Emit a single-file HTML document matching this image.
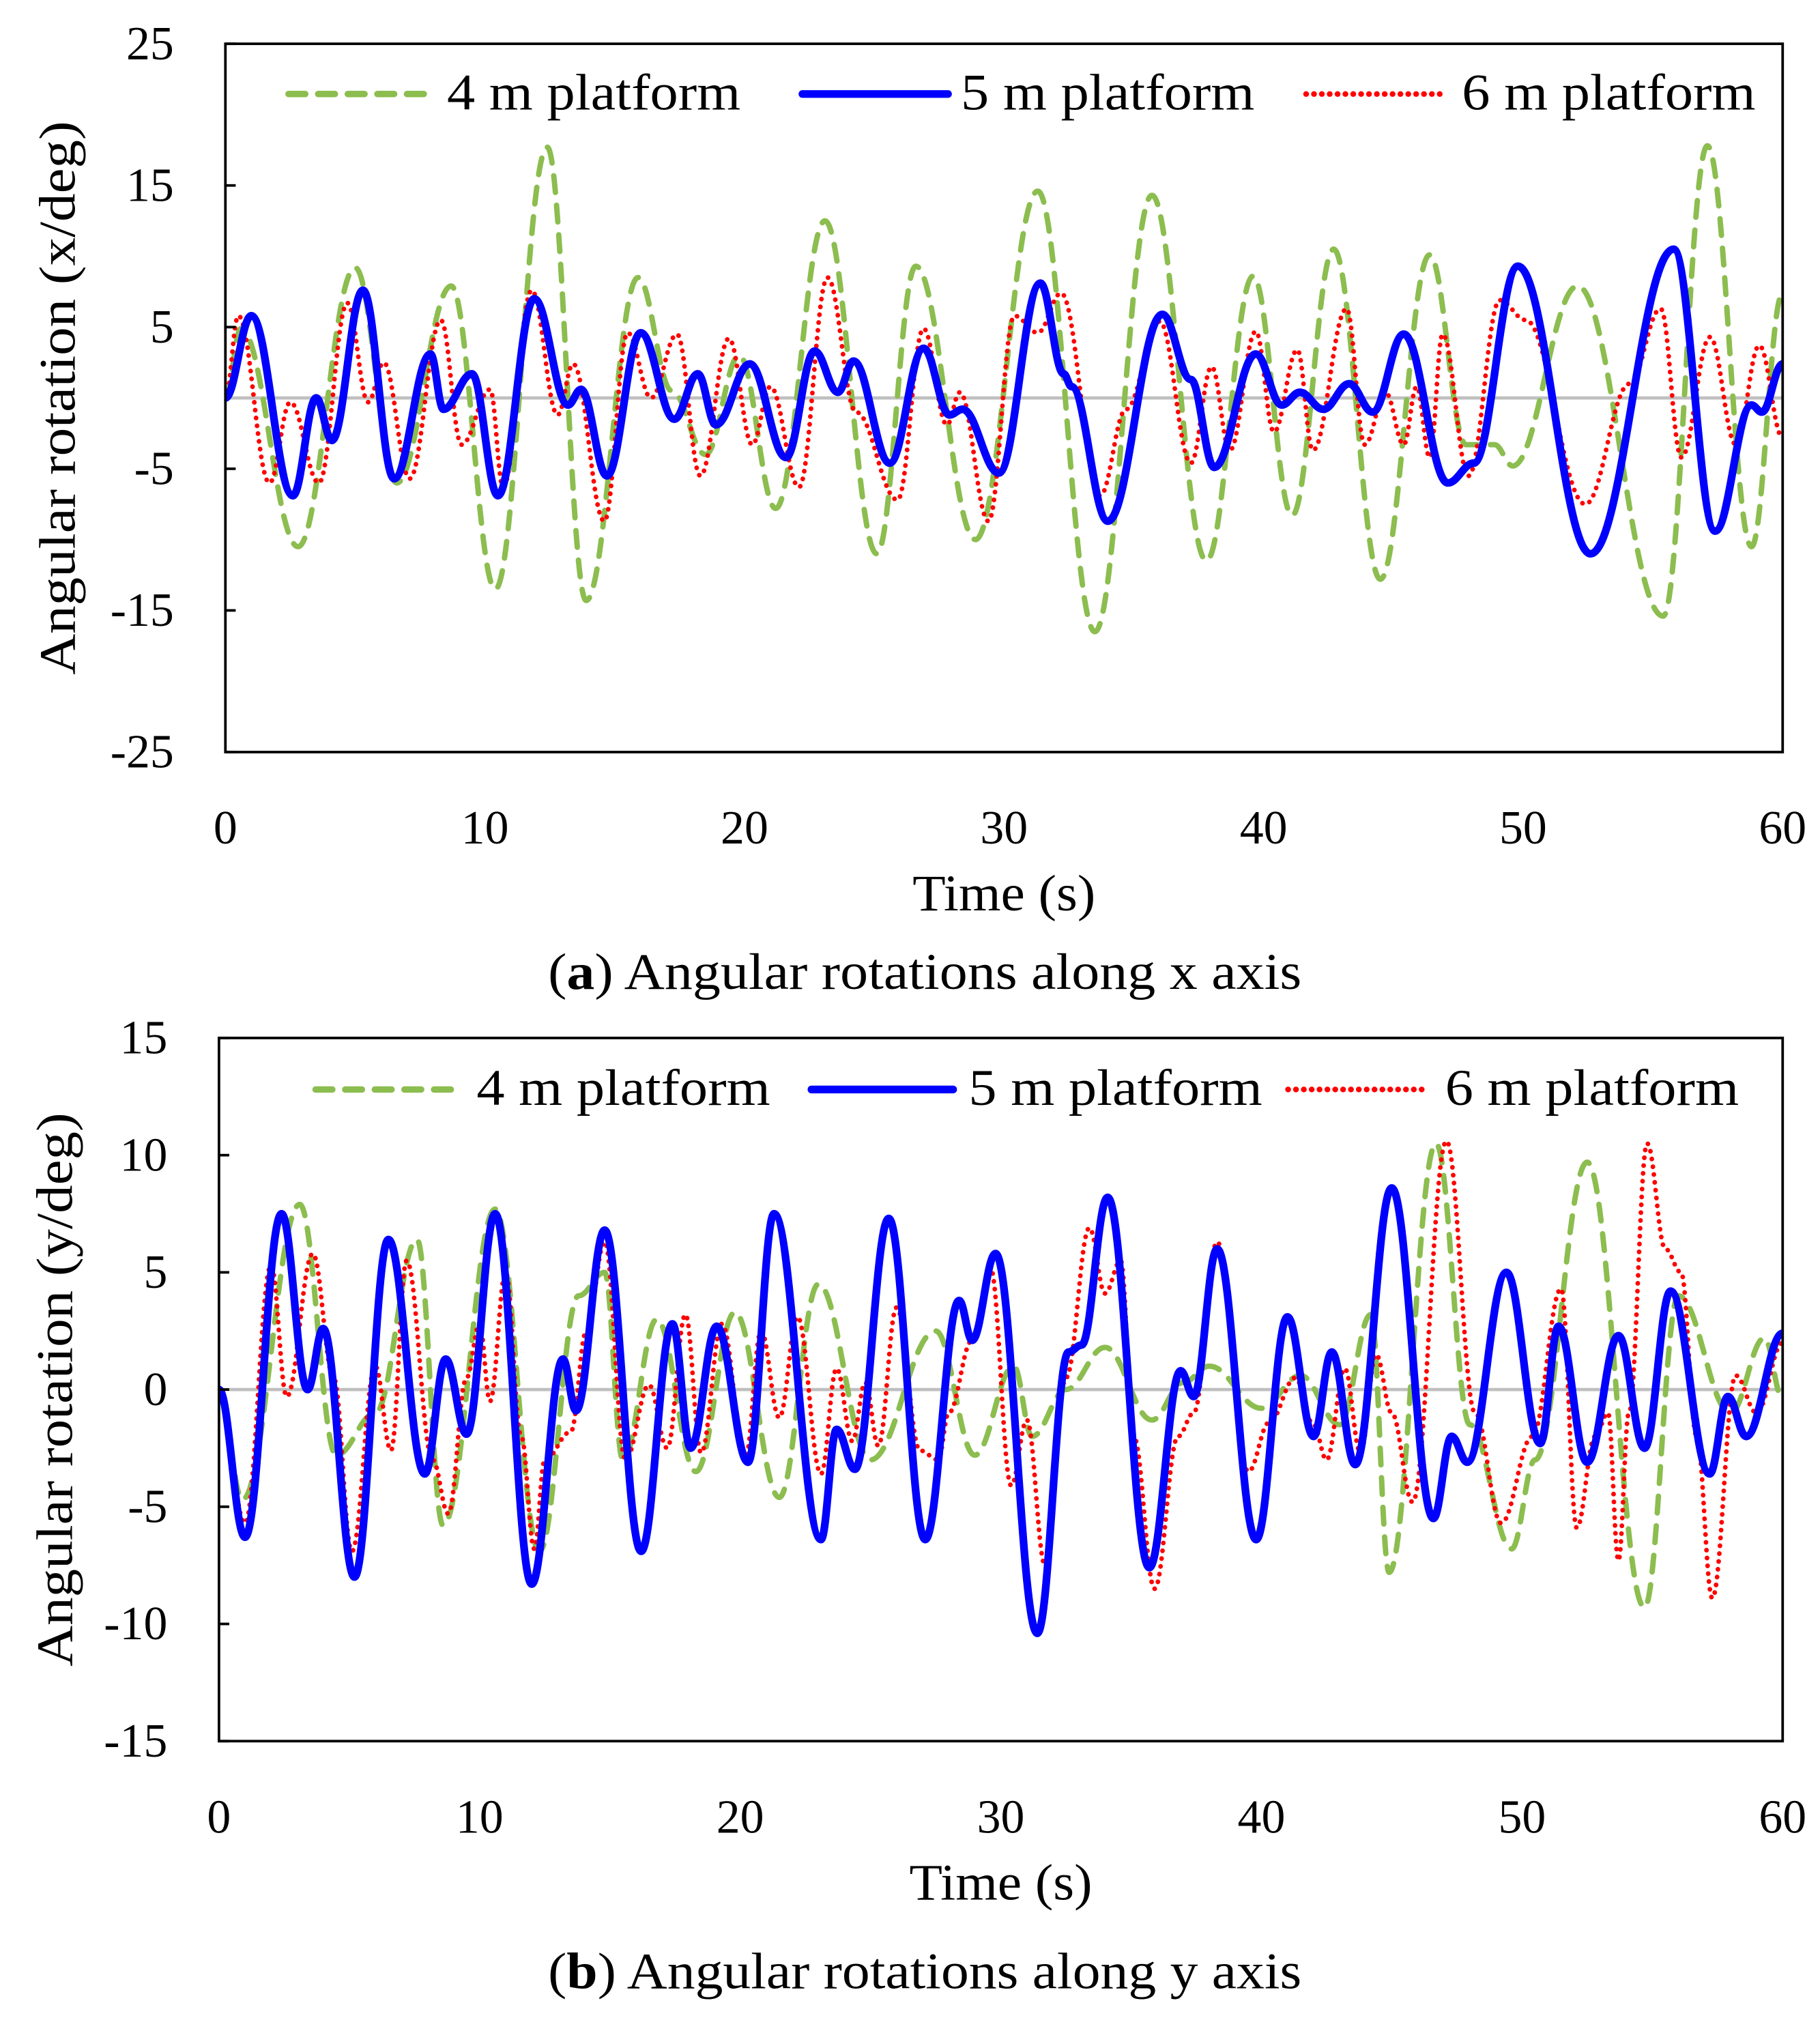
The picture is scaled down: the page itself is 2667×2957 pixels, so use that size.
<!DOCTYPE html>
<html><head><meta charset="utf-8"><style>
html,body{margin:0;padding:0;background:#fff}
svg{display:block}
text{font-family:"Liberation Serif",serif;fill:#000}
</style></head><body>
<svg id="fig" width="2667" height="2957" viewBox="0 0 1413 1567" preserveAspectRatio="none" xmlns="http://www.w3.org/2000/svg">
<g id="chartA"></g>
<g id="chartB"></g>
</svg>
<script>
// ---- Chart (a): x-axis rotation, extrema [time, deg] ----
const aGreenT=[0,0.6,2.8,5,6.6,8.7,10.4,12.4,13.9,15.9,17.2,18.5,19.8,21.2,23.1,25.1,26.6,28.9,31.3,33.5,35.7,37.8,39.6,41.1,42.7,44.5,46.4,47.8,48.9,49.6,52.1,55.4,57.1,58.8,60];
const aGreenV=[0,4.9,-10.5,9.2,-6,7.9,-13.5,17.7,-14.3,8.5,0.5,-4,3,-7.8,12.5,-11,9.3,-10,14.6,-16.5,14.3,-11.5,8.6,-8.3,10.5,-12.8,10.1,-3.3,-3.3,-4.8,7.9,-15.4,17.8,-10.5,7.4];
const aBlueT=[0,1,2.6,3.5,4.1,5.3,6.5,7.9,8.4,9.5,10.5,11.9,13.2,13.7,14.7,16,17.3,18.2,18.9,20.2,21.6,22.7,23.6,24.2,25.6,26.9,27.9,28.4,29.8,31.4,32.3,32.6,34,36.1,37.2,38.1,39.7,40.7,41.4,42.3,43.3,44.2,45.4,47.1,48.1,49.8,52.6,55.8,57.4,58.8,59.2,60];
const aBlueV=[0,5.8,-6.9,0,-3,7.6,-5.7,3.1,-0.8,1.7,-6.9,7,-0.5,0.6,-5.5,4.6,-1.5,1.7,-1.9,2.4,-4.2,3.3,0.4,2.6,-4.6,3.5,-1.2,-0.8,-5.3,8.1,1.7,0.8,-8.7,5.9,1.3,-4.9,3.1,-0.5,0.4,-0.8,1,-1,4.5,-6,-4.6,9.3,-11,10.5,-9.4,-0.5,-1,2.4];
const aRedT=[0,0.5,1.7,2.5,3.6,4.7,5.5,6.1,7.1,8.3,9.1,10.2,10.7,11.8,12.8,13.4,14.6,15.5,16.4,17.4,18.3,19.4,20.3,21,22.1,23.2,24.3,25.9,26.9,27.8,28.3,29.4,30.4,31.3,32.2,33.7,34.7,36,37.2,38,38.7,39.7,40.4,41.3,41.9,43.2,43.9,44.7,45.4,45.9,46.4,46.9,47.9,49.1,50.1,52.4,54.1,55.3,56.1,57.2,58.2,59.1,60];
const aRedV=[0,5.8,-6,-0.3,-6,6.7,-0.3,2.5,-5.7,5.5,-3.3,0.6,-6.3,7.6,-1.2,2.4,-8.7,4.6,0,4.5,-5.5,4.2,-3.3,0.8,-6.3,8.5,-1,-7.2,4.9,-1.9,0.4,-8.7,5.8,4.6,7.4,-6.9,-0.8,5.4,-4.6,2.2,-3.7,4.7,-2.4,3.4,-3.7,6.3,-3.3,0.4,-3.3,0.8,-4.2,4.5,-5.5,6.9,5.5,-7.5,1,6.3,-4.2,4.3,-3.3,3.7,-2.8];
const aYTicks=[25,15,5,-5,-15,-25];
const xTicks=[0,10,20,30,40,50,60];

// ---- Chart (b): y-axis rotation ----
const bGreenT=[0,0.9,3.1,4.5,6,7.6,8.6,10.6,12.3,13.8,14.8,15.5,16.8,18.3,19.8,21.5,23,25,27.5,29,30.5,31.2,32.5,34,35.8,37,38,40,41.5,43,44.2,44.9,46.7,48,49.6,50.5,52.5,54.7,56,58,59.3,60];
const bGreenV=[0,-4.7,7.9,-2.8,-1,6.4,-5.8,7.7,-6.9,4,5,-3,3,-3.5,3.3,-4.6,4.5,-3,2.5,-2.8,1,-2,0,1.8,-1.3,0.3,1,-0.8,0.6,-1.5,3.2,-7.8,10.5,-1.5,-6.8,-3,9.7,-9.3,4,-1,2.2,-0.4];
const bBlueT=[0,1,2.4,3.4,4,5.2,6.5,7.9,8.7,9.5,10.6,12,13.2,13.7,14.8,16.2,17.4,18.1,19.1,20.3,21.3,23.1,23.7,24.4,25.7,27.1,28.4,28.9,29.8,31.4,32.6,33.1,34.1,35.7,36.9,37.4,38.3,39.8,41,42,42.7,43.6,45,46.6,47.3,47.9,49.4,50.7,51.4,52.5,53.7,54.7,55.7,57.2,57.9,58.6,60];
const bBlueV=[0,-6.3,7.5,0,2.6,-8,6.4,-3.6,1.3,-1.9,7.5,-8.3,1.3,-0.9,6.8,-6.9,2.8,-2.5,2.7,-3.1,7.5,-6.4,-1.7,-3.4,7.3,-6.4,3.8,2.1,5.8,-10.4,1.6,1.9,8.2,-7.6,0.8,-0.3,6,-6.4,3.1,-2,1.6,-3.2,8.6,-5.5,-2,-3.1,5,-2.3,2.7,-3.1,2.3,-2.5,4.2,-3.6,-0.3,-2,2.4];
const bRedT=[0,1,2,2.6,3.6,4.4,5.1,6,6.6,7.2,8.2,8.8,9.5,10,10.4,11,11.6,12.1,12.5,13.5,14.1,14.8,15.6,16.5,17.2,17.9,18.5,19.3,20.2,20.8,21.5,22.2,23.1,23.7,24.3,24.8,25.3,26,26.9,27.6,28,28.9,29.6,30.4,31,31.7,32.5,33.4,34,34.6,35.1,35.9,36.8,37.4,38.3,39.5,40.3,41.3,42,42.5,43.2,43.8,44.4,45,45.8,47.1,48.2,49.2,50.4,51.5,52.1,52.8,53.3,53.7,54.1,54.8,55.5,56.1,56.7,57.3,58.2,59,60];
const bRedV=[0,-5.7,5.3,-0.3,5.8,0.5,-6.9,1,-2.6,5.5,-3,-5.3,0.5,2.8,-0.5,5,-2,-6.8,-3,-1.8,2.5,6.3,-3,0.2,-2.5,3.2,-2.7,2.8,-2.9,2.5,-1.2,3.1,-3.6,0.9,-2.2,0.3,-2.4,3.5,-2.6,-3,-1,2.1,5.2,-4.1,-1.3,-7.5,0.5,6.9,4.1,5.5,-2,-8.5,-2,-1,6.3,-3.5,-1.4,0.5,-1.5,-3,0.9,-2.7,1.5,-1,-4.8,10.6,-1,-5.7,-2,4.3,-5.9,-2,-1,-7.3,-1,10.5,6,5,-2,-8.9,0.6,-1,2];
const bYTicks=[15,10,5,0,-5,-10,-15];

const NS='http://www.w3.org/2000/svg';
function mk(parent,tag,attrs){const e=document.createElementNS(NS,tag);for(const k in attrs)e.setAttribute(k,attrs[k]);parent.appendChild(e);return e;}
function pathFrom(T,V,sx,sy){let d='M'+sx(T[0]).toFixed(2)+','+sy(V[0]).toFixed(2);
 for(let i=1;i<T.length;i++){const x0=sx(T[i-1]),y0=sy(V[i-1]),x1=sx(T[i]),y1=sy(V[i]);const dx=(x1-x0)/2.6;
  d+=' C'+(x0+dx).toFixed(2)+','+y0.toFixed(2)+' '+(x1-dx).toFixed(2)+','+y1.toFixed(2)+' '+x1.toFixed(2)+','+y1.toFixed(2);}
 return d;}
const STY={green:{stroke:'#8cbd4f',w:4.2,dash:'13 10',cap:'round'},blue:{stroke:'#0000ff',w:6,dash:'',cap:'round'},red:{stroke:'#ff0000',w:3.6,dash:'0.1 6',cap:'round'}};
const FS=37;

function drawChart(g,cfg){
 const sx=t=>cfg.L+(t-0)/60*(cfg.R-cfg.L);
 const sy=v=>cfg.T+(cfg.ymax-v)/(cfg.ymax-cfg.ymin)*(cfg.B-cfg.T);
 const z=mk(g,'line',{x1:cfg.L,x2:cfg.R,y1:sy(0),y2:sy(0),stroke:'#bfbfbf','stroke-width':2.5});
 
 
 const cp=mk(g,'clipPath',{id:cfg.id+'clip'});mk(cp,'rect',{x:cfg.L,y:cfg.T,width:cfg.R-cfg.L,height:cfg.B-cfg.T});
 const sg=mk(g,'g',{'clip-path':'url(#'+cfg.id+'clip)'});
 for(const s of cfg.series){const st=STY[s.key];
  const p=mk(sg,'path',{d:pathFrom(s.T,s.V,sx,sy),fill:'none',stroke:st.stroke,'stroke-width':st.w,'stroke-dasharray':st.dash,'stroke-linecap':st.cap,'stroke-linejoin':'round'});
  
  }
 const fr=mk(g,'rect',{x:cfg.L,y:cfg.T,width:cfg.R-cfg.L,height:cfg.B-cfg.T,fill:'none',stroke:'#000','stroke-width':2});
 
 
 for(const v of cfg.yticks){
  const tk=mk(g,'line',{x1:cfg.L,x2:cfg.L+8,y1:sy(v),y2:sy(v),stroke:'#000','stroke-width':2});
  
  
  const tx=mk(g,'text',{x:cfg.L-40,y:sy(v)+12,'text-anchor':'end','font-size':FS});tx.textContent=String(v);
  
  }
 for(const t of xTicks){
  const tx=mk(g,'text',{x:sx(t),y:cfg.B+71,'text-anchor':'middle','font-size':FS});tx.textContent=t;
  
  }
 const xt=mk(g,'text',{x:(cfg.L+cfg.R)/2,y:cfg.B+123,'text-anchor':'middle','font-size':40,textLength:142,lengthAdjust:'spacingAndGlyphs'});xt.textContent='Time (s)';
 
 
 const yc=(cfg.T+cfg.B)/2;
 const yt=mk(g,'text',{x:cfg.ytx,y:yc,'text-anchor':'middle','font-size':40,textLength:430,lengthAdjust:'spacingAndGlyphs',transform:'rotate(-90 '+cfg.ytx+' '+yc+')'});yt.textContent=cfg.ytitle;
 
 
 for(const l of cfg.legend){const st=STY[l.key];
  const ln=mk(g,'line',{x1:l.x1,x2:l.x2,y1:l.y,y2:l.y,stroke:st.stroke,'stroke-width':l.key==='blue'?6:st.w+0.8,'stroke-dasharray':st.dash,'stroke-linecap':'round'});
  
  
  const tx=mk(g,'text',{x:l.tx,y:l.y+12,'font-size':40,textLength:228,lengthAdjust:'spacingAndGlyphs'});tx.textContent=l.label;
  
  }
 const cap=mk(g,'text',{x:718,y:cfg.capY,'text-anchor':'middle','font-size':40,textLength:585,lengthAdjust:'spacingAndGlyphs'});
 cap.innerHTML='(<tspan font-weight="bold">'+cfg.capL+'</tspan>) '+cfg.capText;
 
 
}
drawChart(document.getElementById('chartA'),{id:'a',L:175,R:1384,T:34,B:584,ymax:25,ymin:-25,yticks:aYTicks,ytx:58,ytitle:'Angular rotation (x/deg)',
 series:[{key:'green',name:'series-4m',T:aGreenT,V:aGreenV},{key:'red',name:'series-6m',T:aRedT,V:aRedV},{key:'blue',name:'series-5m',T:aBlueT,V:aBlueV}],
 legend:[{key:'green',x1:224,x2:331,y:73,tx:347,label:'4 m platform'},{key:'blue',x1:623,x2:736,y:73,tx:746,label:'5 m platform'},{key:'red',x1:1014,x2:1120,y:73,tx:1135,label:'6 m platform'}],
 capY:768,capL:'a',capText:'Angular rotations along x axis'});
drawChart(document.getElementById('chartB'),{id:'b',L:170,R:1384,T:806,B:1352,ymax:15,ymin:-15,yticks:bYTicks,ytx:56,ytitle:'Angular rotation (y/deg)',
 series:[{key:'green',name:'series-4m',T:bGreenT,V:bGreenV},{key:'red',name:'series-6m',T:bRedT,V:bRedV},{key:'blue',name:'series-5m',T:bBlueT,V:bBlueV}],
 legend:[{key:'green',x1:245,x2:353,y:846,tx:370,label:'4 m platform'},{key:'blue',x1:630,x2:740,y:846,tx:752,label:'5 m platform'},{key:'red',x1:1000,x2:1108,y:846,tx:1122,label:'6 m platform'}],
 capY:1544,capL:'b',capText:'Angular rotations along y axis'});
</script>
</body></html>
